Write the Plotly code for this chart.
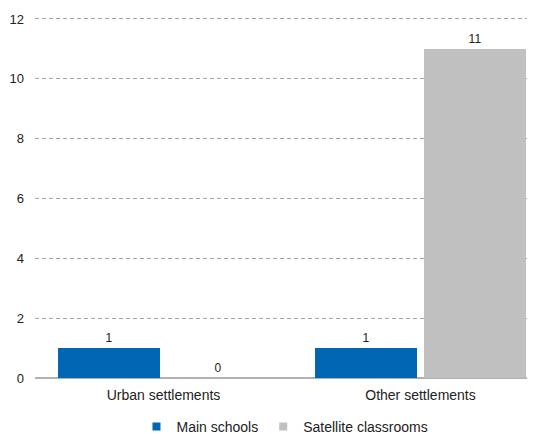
import plotly.graph_objects as go

categories = ["Urban settlements", "Other settlements"]
main_schools = [1, 1]
satellite_classrooms = [0, 11]
y_ticks = [0, 2, 4, 6, 8, 10, 12]
series_names = ["Main schools", "Satellite classrooms"]
series_colors = ["#0066B3", "#C0C0C0"]

fig = go.Figure()
for name, vals, col in zip(series_names, [main_schools, satellite_classrooms], series_colors):
    fig.add_trace(go.Bar(
        x=categories, y=vals, name=name, showlegend=False,
        marker=dict(color=col, line=dict(width=0)),
        text=[str(v) for v in vals], textposition="outside",
        textfont=dict(size=12, color="#222222"), cliponaxis=False,
    ))
for name, col in zip(series_names, series_colors):
    fig.add_trace(go.Scatter(
        x=[None], y=[None], mode="markers", name=name,
        marker=dict(symbol="square", size=8, color=col),
    ))

# page body has an 8px default margin, so the figure is sized/offset to compensate
fig.update_layout(
    width=527, height=426,
    margin=dict(l=27, r=0, t=8, b=56, autoexpand=False),
    paper_bgcolor="white", plot_bgcolor="white",
    font=dict(family="Liberation Sans, Arial, sans-serif", size=14, color="#222222"),
    barmode="group", bargap=0.152, bargroupgap=0.064,
    showlegend=True,
    legend=dict(orientation="h", x=0.5, xanchor="center", y=-0.135, yanchor="middle",
                font=dict(size=14), itemwidth=30, traceorder="normal"),
)
fig.update_xaxes(
    range=[-0.5, 1.4455], showgrid=False, showline=False, ticks="",
    tickfont=dict(size=14), ticklabelstandoff=7, automargin=False,
)
fig.update_yaxes(
    range=[0, 12.1], tickvals=y_ticks, showgrid=True, gridcolor="#A6A6A6",
    griddash="4px,3px", gridwidth=1, zeroline=True, zerolinecolor="#B0B0B0",
    zerolinewidth=1.5, showline=False, ticks="", tickfont=dict(size=13),
    ticklabelstandoff=10, automargin=False,
)

fig.write_html("out.html")
